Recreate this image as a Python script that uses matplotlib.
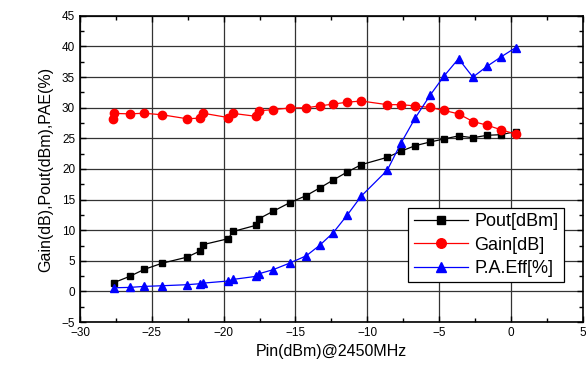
import matplotlib.pyplot as plt
from matplotlib.ticker import MultipleLocator

plt.rcParams['font.family'] = ['Liberation Sans', 'DejaVu Sans']

# input power sweep (dBm)
pin = [-27.65, -26.54, -25.53, -24.29, -22.55, -21.65, -21.42, -19.7, -19.33,
       -17.75, -17.52, -16.55, -15.39, -14.25, -13.31, -12.37, -11.4, -10.42,
       -8.61, -7.66, -6.67, -5.64, -4.65, -3.65, -2.65, -1.66, -0.69, 0.32]
pout = [1.43, 2.46, 3.6, 4.6, 5.6, 6.6, 7.65, 8.6, 9.8,
        10.8, 11.9, 13.1, 14.5, 15.65, 16.9, 18.2, 19.5, 20.7,
        21.9, 22.9, 23.8, 24.4, 24.9, 25.4, 25.1, 25.5, 25.6, 26.1]
pae = [0.6, 0.66, 0.82, 0.93, 1.1, 1.26, 1.36, 1.7, 1.97,
       2.46, 2.9, 3.56, 4.64, 5.82, 7.54, 9.6, 12.46, 15.57,
       19.8, 24.2, 28.3, 32.0, 35.2, 38.0, 35.0, 36.77, 38.3, 39.8]

# gain has an extra point at the start
pin_gain = [-27.73] + pin
gain = [28.2, 29.07, 29.0, 29.1, 28.85, 28.2, 28.3, 29.1, 28.4, 29.07,
        28.6, 29.5, 29.7, 29.95, 30.0, 30.3, 30.6, 30.9, 31.1,
        30.5, 30.5, 30.3, 30.05, 29.55, 29.0, 27.75, 27.15, 26.4, 25.7]

fig = plt.figure(figsize=(5.86, 3.78), dpi=100)
ax = fig.add_axes([0.1365, 0.148, 0.858, 0.81])

ax.plot(pin, pout, color='black', marker='s', markersize=5, lw=0.9,
        label='Pout[dBm]')
ax.plot(pin_gain, gain, color='red', marker='o', markersize=6, lw=0.9,
        label='Gain[dB]')
ax.plot(pin, pae, color='blue', marker='^', markersize=6, lw=0.9,
        label='P.A.Eff[%]')

ax.set_xlim(-30, 5)
ax.set_ylim(-5, 45)
ax.xaxis.set_major_locator(MultipleLocator(5))
ax.xaxis.set_minor_locator(MultipleLocator(2.5))
ax.yaxis.set_major_locator(MultipleLocator(5))
ax.yaxis.set_minor_locator(MultipleLocator(2.5))
ax.tick_params(which='both', direction='in', top=True, right=True,
               labelsize=8.5, width=1)
ax.tick_params(which='major', length=4)
ax.tick_params(which='minor', length=3)
ax.grid(True, which='major', color='#333333', lw=0.9)
for s in ax.spines.values():
    s.set_linewidth(1.2)

ax.set_xlabel('Pin(dBm)@2450MHz', fontsize=11.5)
ax.set_ylabel('Gain(dB),Pout(dBm),PAE(%)', fontsize=11.5, labelpad=6)

leg = ax.legend(loc='lower right', fontsize=13, numpoints=1, fancybox=False,
                edgecolor='black', framealpha=1, handlelength=3.0,
                borderpad=0.3, labelspacing=0.35, markerscale=1.15,
                handletextpad=0.35, bbox_to_anchor=(0.98, 0.1))
leg.get_frame().set_linewidth(0.9)

fig.savefig('out.png', dpi=100)
